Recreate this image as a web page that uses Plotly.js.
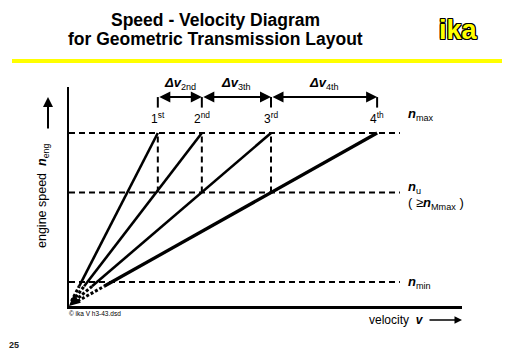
<!DOCTYPE html>
<html>
<head>
<meta charset="utf-8">
<script src="https://cdn.plot.ly/plotly-3.0.1.min.js"></script>
<style>html,body{margin:0;padding:0;background:#fff;}#chart{width:512px;height:354px;}</style>
</head>
<body>
<div id="chart"></div>
<script>
// ---- data (relative units) ----
const gears = ['1<sup>st</sup>', '2<sup>nd</sup>', '3<sup>rd</sup>', '4<sup>th</sup>'];
const vShift = [22.6, 33.8, 51.4, 78.4];          // velocity at n_max for each gear
const deltaLabels = ['2nd', '3th', '4th'];
const nLevels = [79, 51.8, 11];                    // n_max, n_u, n_min
const refEndV = 84.2;                              // end of dashed reference lines
const arrowRow = 95.4;                             // level of the delta-v arrows
const gearTickEnd = 90.6;                          // vertical ticks end above gear labels
const nSolidStart = 9;                             // gear lines solid above this n
const nDashStart = 2.2;

const FONT = 'Arial, "Liberation Sans", sans-serif';
const nMax = nLevels[0], nU = nLevels[1];

// pixel helpers for free-floating text (paper coords)
const PL = 69, PW = 393, PB = 306, PH = 219;
const px = p => (p - PL) / PW;
const py = p => (PB - p) / PH;

const traces = [];
vShift.forEach((v, i) => {
  const k = v / nMax;
  traces.push({x: [k * nSolidStart, v], y: [nSolidStart, nMax], mode: 'lines',
    line: {color: '#000', width: i === 3 ? 3.3 : 2.6}, hoverinfo: 'skip', showlegend: false});
  traces.push({x: [k * nDashStart, k * nSolidStart], y: [nDashStart, nSolidStart], mode: 'lines',
    line: {color: '#000', width: 3, dash: '3px,2px'}, hoverinfo: 'skip', showlegend: false});
});

const shapes = [];
nLevels.forEach(n => shapes.push({type: 'line', xref: 'x', yref: 'y', x0: 0, x1: refEndV, y0: n, y1: n,
  line: {color: '#000', width: 2, dash: '6px,4px'}}));
vShift.forEach((v, i) => {
  shapes.push({type: 'line', xref: 'x', yref: 'y', x0: v, x1: v, y0: gearTickEnd, y1: arrowRow,
    line: {color: '#000', width: 2}});
  if (i < 3) shapes.push({type: 'line', xref: 'x', yref: 'y', x0: v, x1: v, y0: nU, y1: nMax,
    line: {color: '#000', width: 2, dash: '6px,4px'}});
});
// yellow header bar
shapes.push({type: 'line', xref: 'paper', yref: 'paper', x0: px(12), x1: px(502), y0: py(61), y1: py(61),
  line: {color: '#ffff00', width: 4}});

const annotations = [];
const txt = (x, y, text, size, extra) => Object.assign({x: x, y: y, xref: 'paper', yref: 'paper',
  xanchor: 'center', yanchor: 'middle', text: text, showarrow: false,
  font: {family: FONT, size: size, color: '#000'}}, extra || {});

// gear labels
vShift.forEach((v, i) => annotations.push({x: v, y: 85.8, xref: 'x', yref: 'y', text: gears[i],
  xanchor: 'center', yanchor: 'middle', showarrow: false, font: {family: FONT, size: 12, color: '#000'}}));
// delta-v arrows and labels
for (let i = 0; i < 3; i++) {
  annotations.push({x: vShift[i + 1], y: arrowRow, ax: vShift[i], ay: arrowRow, axref: 'x', ayref: 'y',
    xref: 'x', yref: 'y', text: '', showarrow: true, arrowside: 'end+start', arrowhead: 2,
    arrowsize: 1.1, arrowwidth: 2, arrowcolor: '#000', standoff: 0, startstandoff: 0});
  annotations.push(txt((vShift[i] + vShift[i + 1]) / 200, py(83),
    '<b><i>Δv</i></b><sub>' + deltaLabels[i] + '</sub>', 13));
}
// right side labels
annotations.push(txt(px(406), py(114), '<b><i>n</i></b><sub>max</sub>', 13, {xanchor: 'left'}));
annotations.push(txt(px(406), py(187), '<b><i>n</i></b><sub>u</sub>', 13, {xanchor: 'left'}));
annotations.push(txt(px(406), py(203), '( ≥<b><i>n</i></b><sub>Mmax</sub> )', 13, {xanchor: 'left'}));
annotations.push(txt(px(406), py(282), '<b><i>n</i></b><sub>min</sub>', 13, {xanchor: 'left'}));
// origin arrow
annotations.push({x: 0, y: 0, xref: 'x', yref: 'y', ax: 9, ay: -8, text: '', showarrow: true,
  arrowhead: 2, arrowsize: 1, arrowwidth: 2.2, arrowcolor: '#000', standoff: 0});
// axis titles
annotations.push(txt(px(43), py(196), 'engine speed  <b><i>n</i></b><sub>eng</sub>', 12.5, {textangle: -90}));
annotations.push({x: px(48), y: py(97), xref: 'paper', yref: 'paper', ax: 0, ay: 33,
  text: '', showarrow: true, arrowhead: 2, arrowsize: 1, arrowwidth: 2, arrowcolor: '#000', standoff: 0});
annotations.push(txt(px(426), py(320), 'velocity  <b><i>v</i></b>', 12, {xanchor: 'right'}));
annotations.push({x: px(462), y: py(320), xref: 'paper', yref: 'paper', ax: -34, ay: 0,
  text: '', showarrow: true, arrowhead: 2, arrowsize: 1, arrowwidth: 1.5, arrowcolor: '#000', standoff: 0});
// small texts
annotations.push(txt(px(67), py(313), '© ika V h3-43.dsd', 6.5, {xanchor: 'left'}));
annotations.push(txt(px(14), py(345), '<b>25</b>', 9, {font: {family: FONT, size: 9, color: '#222'}}));
// title (two lines)
annotations.push(txt(px(215), py(20), '<b>Speed - Velocity Diagram</b>', 17.5));
annotations.push(txt(px(215), py(39), '<b>for Geometric Transmission Layout</b>', 17.5));
// logo
annotations.push(txt(px(458), py(30), '<b>ika</b>', 27, {
  font: {family: FONT, size: 27, color: '#ffff00',
    shadow: '1px 1px 0 #000, -1px -1px 0 #000, 1px -1px 0 #000, -1px 1px 0 #000, 0 1px 0 #000, 0 -1px 0 #000, 1px 0 0 #000, -1px 0 0 #000'}}));

const layout = {
  width: 512, height: 354,
  margin: {l: 69, r: 50, t: 87, b: 48, pad: 0},
  paper_bgcolor: '#fff', plot_bgcolor: '#fff',
  showlegend: false,
  xaxis: {range: [0, 100], showgrid: false, zeroline: false, showticklabels: false, ticks: '',
    showline: true, linecolor: '#000', linewidth: 2.5, fixedrange: true},
  yaxis: {range: [0, 100], showgrid: false, zeroline: false, showticklabels: false, ticks: '',
    showline: true, linecolor: '#000', linewidth: 2.5, fixedrange: true},
  shapes: shapes,
  annotations: annotations
};

Plotly.newPlot('chart', traces, layout, {staticPlot: true, displayModeBar: false});
</script>
</body>
</html>
